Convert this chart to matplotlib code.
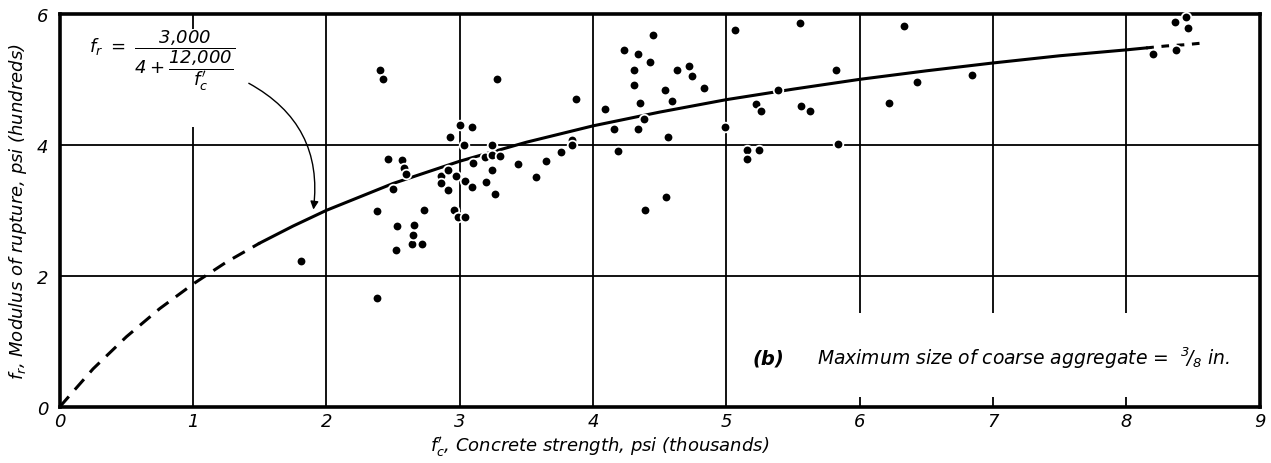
import matplotlib
matplotlib.use("Agg")
import matplotlib.pyplot as plt
from matplotlib.patches import Rectangle

# test points (fc' in thousands psi, fr in hundreds psi)
fc = [1.81, 2.38, 2.38, 2.40, 2.425, 2.465, 2.50, 2.52, 2.53, 2.565, 2.58, 2.60,
      2.64, 2.65, 2.66, 2.72, 2.73, 2.86, 2.86, 2.91, 2.91, 2.93, 2.96, 2.97,
      2.985, 3.0, 3.03, 3.04, 3.04, 3.09, 3.09, 3.10, 3.19, 3.20, 3.24, 3.245,
      3.245, 3.265, 3.28, 3.305, 3.44, 3.57, 3.645, 3.76, 3.845, 3.845, 3.87,
      4.09, 4.16, 4.19, 4.23, 4.31, 4.31, 4.34, 4.34, 4.35, 4.38, 4.39, 4.43,
      4.45, 4.54, 4.55, 4.56, 4.59, 4.63, 4.72, 4.74, 4.835, 4.99, 5.065, 5.155,
      5.155, 5.22, 5.245, 5.26, 5.39, 5.55, 5.56, 5.625, 5.82, 5.84, 6.22, 6.33,
      6.43, 6.84, 8.20, 8.365, 8.375, 8.45, 8.465]
fr = [2.22, 1.66, 2.99, 5.145, 5.01, 3.78, 3.32, 2.40, 2.76, 3.77, 3.65, 3.55,
      2.49, 2.62, 2.78, 2.49, 3.00, 3.53, 3.41, 3.62, 3.31, 4.12, 3.01, 3.52,
      2.90, 4.30, 4.00, 3.45, 2.90, 4.27, 3.36, 3.73, 3.81, 3.43, 3.61, 4.00,
      3.84, 3.25, 5.01, 3.83, 3.71, 3.51, 3.75, 3.89, 4.07, 4.00, 4.70,
      4.55, 4.24, 3.90, 5.445, 5.15, 4.92, 4.24, 5.38, 4.64, 4.39, 3.01, 5.26,
      5.67, 4.84, 3.21, 4.12, 4.67, 5.14, 5.21, 5.05, 4.875, 4.27, 5.76, 3.92,
      3.78, 4.63, 3.92, 4.51, 4.83, 5.86, 4.60, 4.51, 5.15, 4.02, 4.64, 5.82,
      4.96, 5.06, 5.39, 5.88, 5.445, 5.95, 5.79]

# the fitted curve
curve_x = [0.0, 0.25, 0.5, 0.75, 1.0, 1.25, 1.5, 1.75, 2.0, 2.5, 3.0, 3.5, 4.0,
           4.5, 5.0, 5.5, 6.0, 6.5, 7.0, 7.5, 8.0, 8.15, 8.3, 8.45, 8.6]
curve_y = [0.0, 0.58, 1.07, 1.50, 1.875, 2.21, 2.50, 2.76, 3.00, 3.41, 3.75,
           4.04, 4.29, 4.50, 4.69, 4.85, 5.00, 5.13, 5.25, 5.36, 5.45, 5.48,
           5.51, 5.53, 5.56]

x_ticks = list(range(0, 10))
y_ticks = [0, 2, 4, 6]

plt.rcParams['font.family'] = ['DejaVu Sans']
plt.rcParams['font.style'] = 'italic'
plt.rcParams['mathtext.fontset'] = 'dejavusans'
plt.rcParams['mathtext.default'] = 'it'

fig = plt.figure(figsize=(12.71, 4.64), dpi=100)
ax = fig.add_axes([0.047, 0.121, 0.944, 0.847])
ax.set_xlim(0, 9)
ax.set_ylim(0, 6)

for v in x_ticks[1:-1]:
    ax.axvline(v, color='black', lw=1.3, zorder=1)
for v in y_ticks[1:-1]:
    ax.axhline(v, color='black', lw=1.3, zorder=1)

# white patches behind the texts, they break the grid lines like the original
ax.add_patch(Rectangle((5.04, 0.15), 3.9, 1.28, facecolor='white',
                       edgecolor='none', zorder=2))
ax.add_patch(Rectangle((0.75, 4.27), 1.0, 1.5, facecolor='white',
                       edgecolor='none', zorder=2))

# curve: dashed at both ends, solid over the test range
i0 = curve_x.index(1.5)
i1 = curve_x.index(8.15)
ax.plot(curve_x[:i0 + 1], curve_y[:i0 + 1], color='black', lw=2.2,
        dashes=(4.5, 3), dash_capstyle='butt', zorder=3)
ax.plot(curve_x[i0:i1 + 1], curve_y[i0:i1 + 1], color='black', lw=2.2, zorder=3)
ax.plot(curve_x[i1:], curve_y[i1:], color='black', lw=2.2,
        dashes=(2.5, 2.5), dash_capstyle='butt', zorder=3)

ax.scatter(fc, fr, s=48, color='black', edgecolors='white', linewidths=1.3,
           zorder=5, clip_on=False)

ax.set_xticks(x_ticks)
ax.set_yticks(y_ticks)
ax.set_xticklabels([str(v) for v in x_ticks], fontsize=13)
ax.set_yticklabels([str(v) for v in y_ticks], fontsize=13)
ax.tick_params(length=0)
ax.tick_params(axis='x', pad=4)
ax.tick_params(axis='y', pad=8)
for s in ax.spines.values():
    s.set_linewidth(2.6)
    s.set_zorder(4)

ax.set_xlabel(r"$f_c'$, Concrete strength, psi (thousands)", fontsize=13, labelpad=0)
ax.xaxis.set_label_coords(0.45, -0.068)
ax.set_ylabel(r"$f_r$, Modulus of rupture, psi (hundreds)", fontsize=13, labelpad=6)

ax.text(0.22, 5.3, r"$f_r\ =\ \dfrac{3{,}000}{4+\dfrac{12{,}000}{f_c'}}$",
        fontsize=13, va='center', ha='left', zorder=6)
ax.annotate("", xy=(1.9, 2.97), xytext=(1.4, 4.96),
            arrowprops=dict(arrowstyle='-|>', color='black', lw=1.0,
                            mutation_scale=12,
                            connectionstyle="arc3,rad=-0.35"), zorder=6)

ax.text(5.2, 0.75, "(b)", fontsize=14, fontweight='bold', va='center', zorder=6)
ax.text(5.68, 0.75, r"Maximum size of coarse aggregate =  $^3\!/_8$ in.",
        fontsize=13.5, va='center', zorder=6)

fig.savefig("out.png", dpi=100)
